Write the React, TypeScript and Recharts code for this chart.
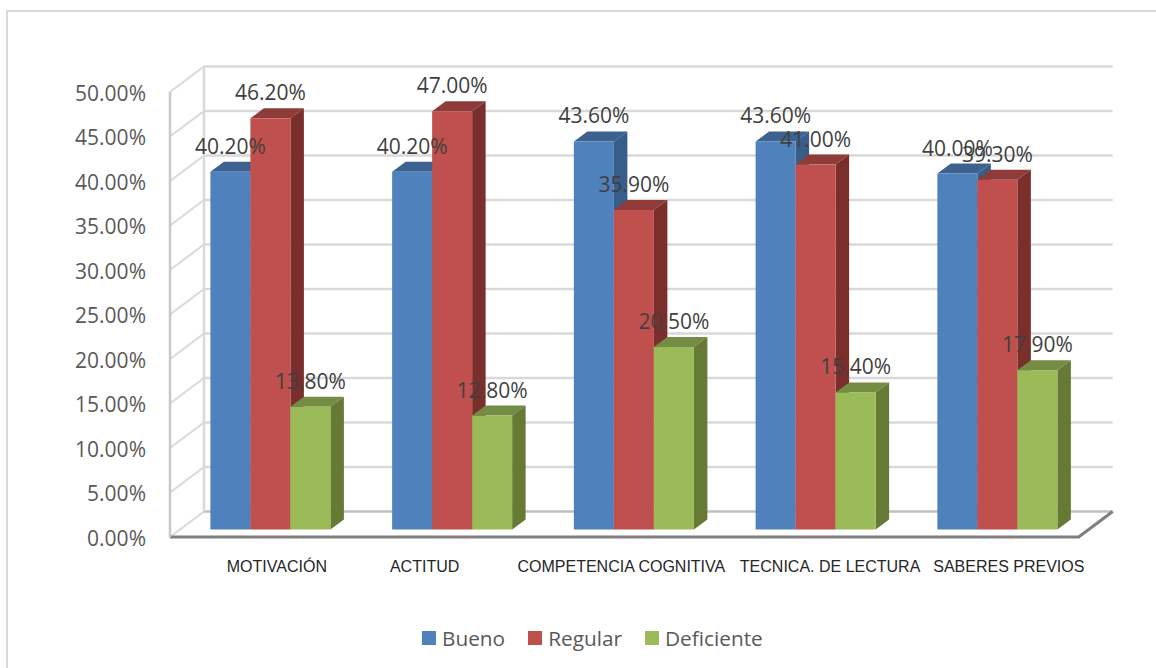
import { BarChart, Bar, XAxis, YAxis, CartesianGrid, Legend, LabelList } from "recharts";

const categories = ["MOTIVACIÓN", "ACTITUD", "COMPETENCIA COGNITIVA", "TECNICA. DE LECTURA", "SABERES PREVIOS"];
const bueno = [40.2, 40.2, 43.6, 43.6, 40.0];
const regular = [46.2, 47.0, 35.9, 41.0, 39.3];
const deficiente = [13.8, 12.8, 20.5, 15.4, 17.9];
const yTicks = [0, 5, 10, 15, 20, 25, 30, 35, 40, 45, 50];

// the category labels sit by hand in the original, not on the band centres
const tickShift = [6, -28, -13, 14, 11];

const data = categories.map((name, i) => ({
  name,
  bueno: bueno[i],
  regular: regular[i],
  deficiente: deficiente[i],
}));

const series = [
  { key: "bueno", name: "Bueno", front: "#4f81bd", top: "#3d628f", side: "#385d89" },
  { key: "regular", name: "Regular", front: "#c0504d", top: "#8f3b39", side: "#7b2f2d" },
  { key: "deficiente", name: "Deficiente", front: "#9bbb59", top: "#748c43", side: "#667a36" },
];

// plot area is the plane the bar fronts stand on
const plotLeft = 180;
const plotTop = 84.5;
const plotWidth = 908.7;
const plotHeight = 445;
const yAxisWidth = 60;
const xAxisHeight = 40;

// fake 3D offsets
const floorDx = 10;
const floorDy = 7.5;
const wallDx = 24;
const wallDy = 18;
const depthDx = 13.5;
const depthDy = 10;

const labelFont = "'Open Sans', sans-serif";

const Bar3D = (props: any) => {
  const { x, y, width, height, front, top, side } = props;
  return (
    <g>
      <polygon
        points={`${x},${y} ${x + depthDx},${y - depthDy} ${x + width + depthDx},${y - depthDy} ${x + width},${y}`}
        fill={top}
      />
      <polygon
        points={`${x + width},${y} ${x + width + depthDx},${y - depthDy} ${x + width + depthDx},${y + height - depthDy} ${x + width},${y + height}`}
        fill={side}
      />
      <rect x={x} y={y} width={width} height={height} fill={front} />
    </g>
  );
};

// every horizontal grid line becomes a back wall line plus a side wall diagonal
const WallLine = (props: any) => {
  const { x1, x2, y1 } = props;
  const isFloor = Math.abs(y1 - (plotTop + plotHeight)) < 1;
  const isTop = Math.abs(y1 - plotTop) < 1;
  const left = x1 - floorDx;
  const front = y1 + floorDy;
  const backX = x1 + wallDx;
  const backY = y1 - wallDy;
  const endX = x2 + wallDx;
  return (
    <g fill="none">
      <line x1={left} y1={front} x2={backX} y2={backY} stroke="#d9d9d9" strokeWidth={2} />
      <line x1={backX} y1={backY} x2={endX} y2={backY} stroke={isFloor ? "#bfbfbf" : "#d9d9d9"} strokeWidth={2.5} />
      {isTop && (
        <>
          <line x1={left} y1={front} x2={left} y2={front + plotHeight} stroke="#c8c8c8" strokeWidth={2.5} />
          <line x1={backX} y1={backY} x2={backX} y2={backY + plotHeight} stroke="#d9d9d9" strokeWidth={2.5} />
        </>
      )}
      {isFloor && (
        <polyline
          points={`${left},${front} ${x2 - floorDx},${front} ${endX},${backY}`}
          stroke="#7f7f7f"
          strokeWidth={3}
        />
      )}
    </g>
  );
};

const ValueTick = (props: any) => {
  const { y, payload } = props;
  return (
    <text x={146} y={y + floorDy + 8.5} textAnchor="end" fontFamily={labelFont} fontSize={21} fill="#595959">
      {payload.value.toFixed(2)}%
    </text>
  );
};

const CategoryTick = (props: any) => {
  const { x, payload, index } = props;
  return (
    <text x={x + tickShift[index]} y={572} textAnchor="middle" fontFamily="'Liberation Sans', Arial, sans-serif" fontSize={16} fill="#262626">
      {payload.value}
    </text>
  );
};

const ValueLabel = (props: any) => {
  const { x, y, width, value } = props;
  return (
    <text x={x + width / 2} y={y - 18} textAnchor="middle" fontFamily={labelFont} fontSize={21} fill="#404040">
      {value.toFixed(2)}%
    </text>
  );
};

const LegendRow = () => (
  <div style={{ display: "flex", fontFamily: labelFont, fontSize: 20.8, color: "#595959", lineHeight: "28px" }}>
    {series.map((s) => (
      <div key={s.key} style={{ display: "flex", alignItems: "center", marginRight: 23 }}>
        <span style={{ width: 14, height: 14, background: s.front, marginRight: 6, display: "inline-block" }} />
        {s.name}
      </div>
    ))}
  </div>
);

const App = () => {
  return (
    <div style={{ position: "absolute", left: 0, top: 0, width: 1156, height: 668, background: "#fff", overflow: "hidden" }}>
      <div style={{ position: "absolute", left: 6, top: 10, width: 1160, height: 670, border: "2px solid #d9d9d9" }} />
      <div style={{ position: "absolute", left: 0, top: 0 }}>
        <BarChart
          width={1156}
          height={668}
          data={data}
          barGap={0}
          barCategoryGap={30.4}
          margin={{
            top: plotTop,
            left: plotLeft - yAxisWidth,
            right: 1156 - plotLeft - plotWidth,
            bottom: 668 - plotTop - plotHeight - xAxisHeight,
          }}
        >
          <CartesianGrid vertical={false} horizontal={(p: any) => <WallLine key={p.key} {...p} />} />
          <XAxis dataKey="name" axisLine={false} tickLine={false} tick={<CategoryTick />} interval={0} height={xAxisHeight} />
          <YAxis domain={[0, 50]} ticks={yTicks} axisLine={false} tickLine={false} tick={<ValueTick />} width={yAxisWidth} />
          <Legend
            verticalAlign="middle"
            content={<LegendRow />}
            wrapperStyle={{ position: "absolute", left: 422, top: 624, width: 400, height: 28, bottom: "auto" }}
          />
          {series.map((s) => (
            <Bar
              key={s.key}
              dataKey={s.key}
              name={s.name}
              isAnimationActive={false}
              shape={(p: any) => <Bar3D {...p} front={s.front} top={s.top} side={s.side} />}
            >
              <LabelList dataKey={s.key} content={<ValueLabel />} />
            </Bar>
          ))}
        </BarChart>
      </div>
    </div>
  );
};

export default App;
